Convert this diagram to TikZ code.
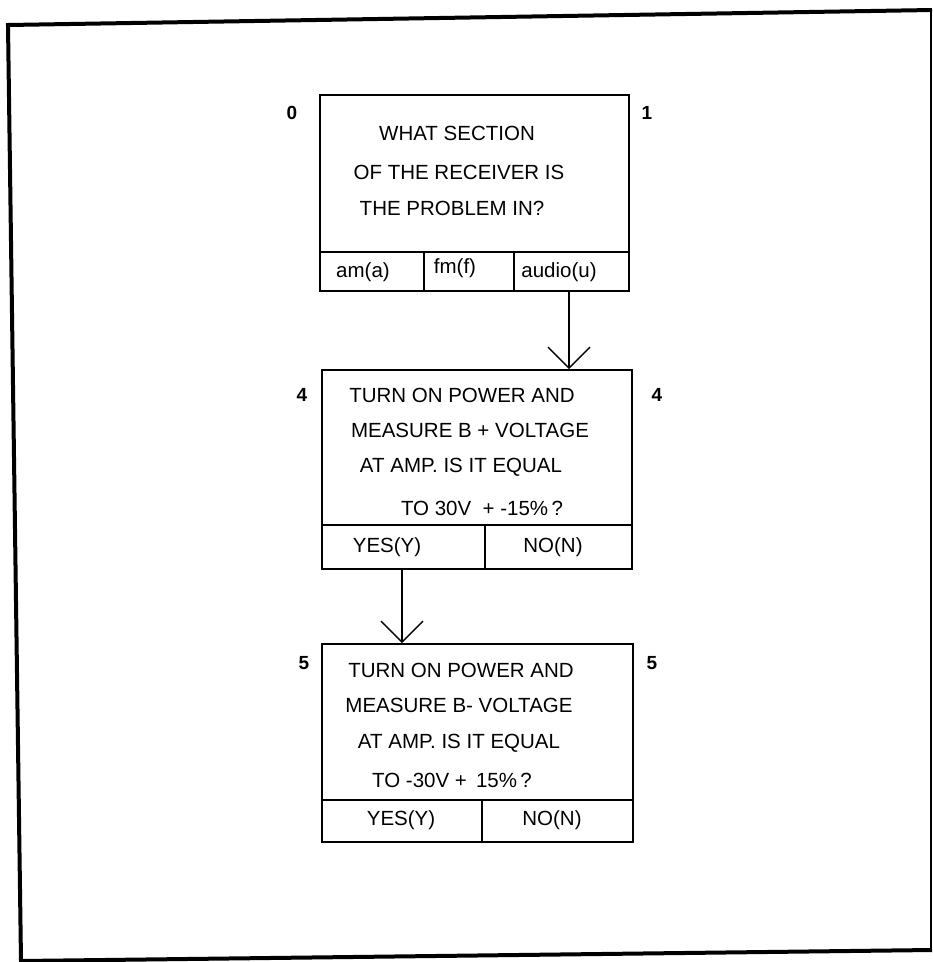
\documentclass[tikz,border=0pt]{standalone}
\usepackage{fontspec}
\setmainfont{Liberation Sans}
\usetikzlibrary{arrows.meta}
\begin{document}
\begin{tikzpicture}[x=1pt,y=-1pt,
  cell/.style={draw, line width=1.6pt, inner sep=0pt, minimum width=#1},
  txt/.style={anchor=base, inner sep=0pt, font=\fontsize{20.5}{24}\selectfont},
  num/.style={anchor=base, inner sep=0pt, font=\fontsize{19}{22}\selectfont\bfseries},
  flow/.style={line width=1.6pt, -{Straight Barb[length=21pt,width=42pt,line width=1.4pt]}}]
\useasboundingbox (0,0) rectangle (933,962);
% outer page frame
\draw[line width=4pt, line join=miter] (932,10) -- (8,25) -- (21,961) -- (932,950);
\draw[line width=1.5pt] (931,10) -- (931,950);

% box 1: section question
\node[cell=309pt, minimum height=157pt] (q1) at (474.5,173.5) {};
\node[cell=104pt, minimum height=39pt] (a1) at (372,271.5) {};
\node[cell=90pt,  minimum height=39pt] (f1) at (469,271.5) {};
\node[cell=115pt, minimum height=39pt] (u1) at (571.5,271.5) {};
\node[txt] (t11) at (457,140) {WHAT SECTION};
\node[txt] (t12) at (459,179) {OF THE RECEIVER IS};
\node[txt] (t13) at (452,215) {THE PROBLEM IN?};
\node[txt] (la1) at (363,277) {am(a)};
\node[txt] (lf1) at (455,273) {fm(f)};
\node[txt] (lu1) at (559,277) {audio(u)};
\node[num] (n10) at (292,119) {0};
\node[num] (n11) at (647,119) {1};

% box 2: B+ voltage check
\node[cell=310pt, minimum height=155pt] (q2) at (477,447.5) {};
\node[cell=163pt, minimum height=44pt] (y2) at (403.5,547) {};
\node[cell=147pt, minimum height=44pt] (n2) at (558.5,547) {};
\node[txt] (t21) at (462,402) {TURN ON POWER AND};
\node[txt] (t22) at (470,437) {MEASURE B + VOLTAGE};
\node[txt] (t23) at (461,472) {AT AMP. IS IT EQUAL};
\node[txt] (t24) at (482,515) {TO 30V\ \ + -15\%\,?};
\node[txt] (ly2) at (387,552) {YES(Y)};
\node[txt] (ln2) at (553,552) {NO(N)};
\node[num] (n20) at (302,401) {4};
\node[num] (n21) at (657,401) {4};

% box 3: B- voltage check
\node[cell=311pt, minimum height=156pt] (q3) at (477.5,722) {};
\node[cell=160pt, minimum height=42pt] (y3) at (402,821) {};
\node[cell=151pt, minimum height=42pt] (n3) at (557.5,821) {};
\node[txt] (t31) at (461,677) {TURN ON POWER AND};
\node[txt] (t32) at (459,712) {MEASURE B- VOLTAGE};
\node[txt] (t33) at (459,748) {AT AMP. IS IT EQUAL};
\node[txt] (t34) at (452,787) {TO -30V\ + \,15\%\,?};
\node[txt] (ly3) at (401,825) {YES(Y)};
\node[txt] (ln3) at (552,825) {NO(N)};
\node[num] (n30) at (304,669) {5};
\node[num] (n31) at (652,669) {5};

% connectors
\draw[flow] ([xshift=-2.5pt]u1.south) -- ([xshift=-2.5pt]u1.south |- q2.north);
\draw[flow] ([xshift=-1.5pt]y2.south) -- ([xshift=-1.5pt]y2.south |- q3.north);
\end{tikzpicture}
\end{document}
